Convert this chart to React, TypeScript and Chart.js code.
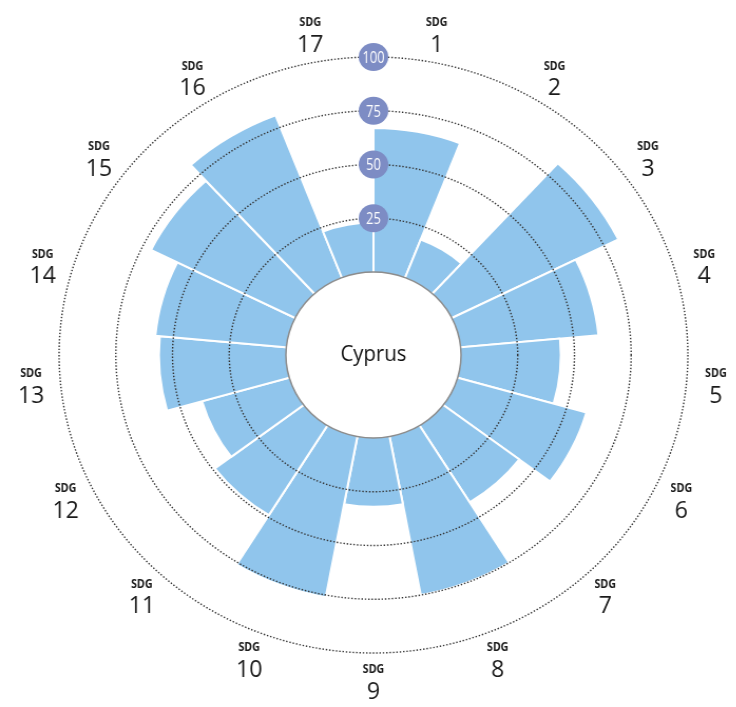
import React, { useEffect, useRef } from "react";
import { Chart, registerables } from "chart.js";

Chart.register(...registerables);

// ---- data ----
const categories = [
  "SDG 1", "SDG 2", "SDG 3", "SDG 4", "SDG 5", "SDG 6", "SDG 7", "SDG 8", "SDG 9",
  "SDG 10", "SDG 11", "SDG 12", "SDG 13", "SDG 14", "SDG 15", "SDG 16", "SDG 17",
];
const goalNumbers = ["1", "2", "3", "4", "5", "6", "7", "8", "9", "10", "11", "12", "13", "14", "15", "16", "17"];
const labelPrefix = "SDG";
const scores = [67, 19, 82, 61, 44, 59, 42, 75, 32, 76, 49, 40, 56, 58, 71, 81, 23];
const ringValues = [25, 50, 75, 100];
const ringLabels = ["25", "50", "75", "100"];
const centerLabel = "Cyprus";

// ---- layout / style ----
const STRETCH_X = 1.055;
const CANVAS_W = 698;
const CANVAS_H = 707;
const HOLE_OFFSET = 38.6; // value span hidden under the inner white disc
const BAR_COLOR = "#90c5ec";
const BADGE_COLOR = "#7d8cc4";

function condensedText(ctx: CanvasRenderingContext2D, text: string, x: number, y: number, sx: number) {
  ctx.save();
  ctx.translate(x, y);
  ctx.scale(sx, 1);
  ctx.fillText(text, 0, 0);
  ctx.restore();
}

export default function App() {
  const ref = useRef<HTMLCanvasElement>(null);

  useEffect(() => {
    if (!ref.current) return;

    const overlay = {
      id: "overlay",
      afterDatasetsDraw(chart: any) {
        const ctx = chart.ctx as CanvasRenderingContext2D;
        const s = chart.scales.r as any;
        const cx = s.xCenter;
        const cy = s.yCenter;
        const r0 = s.getDistanceFromCenterForValue(0);
        ctx.save();

        // inner disc
        ctx.beginPath();
        ctx.arc(cx, cy, r0, 0, Math.PI * 2);
        ctx.fillStyle = "#ffffff";
        ctx.fill();
        ctx.lineWidth = 1.5;
        ctx.strokeStyle = "#8c8c8c";
        ctx.stroke();

        // dotted rings
        ctx.setLineDash([1.4, 1.8]);
        ctx.lineWidth = 1.4;
        ctx.strokeStyle = "#333333";
        ringValues.forEach((v) => {
          const r = s.getDistanceFromCenterForValue(v);
          ctx.beginPath();
          ctx.arc(cx, cy, r, 0, Math.PI * 2);
          ctx.stroke();
        });
        ctx.setLineDash([]);

        // ring badges
        ctx.textAlign = "center";
        ctx.textBaseline = "middle";
        ringValues.forEach((v, i) => {
          const r = s.getDistanceFromCenterForValue(v);
          const by = cy - r;
          ctx.beginPath();
          ctx.arc(cx, by, 14, 0, Math.PI * 2);
          ctx.fillStyle = BADGE_COLOR;
          ctx.fill();
          ctx.fillStyle = "#ffffff";
          ctx.font = "17px 'Open Sans', sans-serif";
          condensedText(ctx, ringLabels[i], cx, by + 1, 0.72);
        });

        // center label
        ctx.fillStyle = "#111111";
        ctx.font = "21px 'Open Sans', sans-serif";
        condensedText(ctx, centerLabel, cx, cy, 0.92);

        // SDG labels
        const n = scores.length;
        const rl = s.getDistanceFromCenterForValue(100) + 28;
        for (let i = 0; i < n; i++) {
          const a = ((i + 0.5) / n) * Math.PI * 2;
          const x = cx + rl * Math.sin(a);
          const y = cy - rl * Math.cos(a);
          ctx.fillStyle = "#1a1a1a";
          ctx.font = "bold 12px 'Noto Sans', sans-serif";
          condensedText(ctx, labelPrefix, x, y - 11.5, 0.85);
          ctx.font = "23px 'Open Sans', sans-serif";
          condensedText(ctx, goalNumbers[i], x, y + 11, 0.95);
        }
        ctx.restore();
      },
    };

    const chart = new Chart(ref.current, {
      type: "polarArea",
      data: {
        labels: categories,
        datasets: [
          {
            data: scores,
            backgroundColor: BAR_COLOR,
            borderColor: "#ffffff",
            borderWidth: 2,
          },
        ],
      },
      options: {
        responsive: false,
        animation: false,
        events: [],
        layout: { padding: { left: 56, right: 46, top: 57, bottom: 54 } },
        plugins: {
          legend: { display: false },
          tooltip: { enabled: false },
        },
        scales: {
          r: {
            min: -HOLE_OFFSET,
            max: 100,
            ticks: { display: false, stepSize: 25 },
            grid: { display: false },
            angleLines: { display: false },
            pointLabels: { display: false },
          },
        },
      },
      plugins: [overlay],
    });

    return () => chart.destroy();
  }, []);

  return (
    <div
      style={{
        position: "absolute",
        left: 0,
        top: 0,
        width: CANVAS_W,
        height: CANVAS_H,
        transform: `scaleX(${STRETCH_X})`,
        transformOrigin: "0 0",
      }}
    >
      <canvas ref={ref} width={CANVAS_W} height={CANVAS_H} style={{ display: "block" }} />
    </div>
  );
}
